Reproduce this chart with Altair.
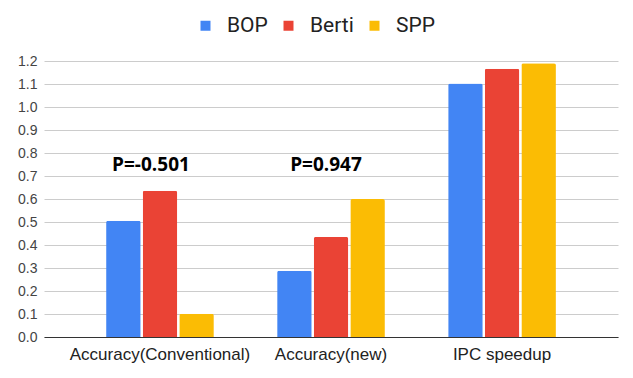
import altair as alt
import pandas as pd

categories = ["Accuracy(Conventional)", "Accuracy(new)", "IPC speedup"]
series = ["BOP", "Berti", "SPP"]
bop = [0.505, 0.288, 1.102]
berti = [0.636, 0.435, 1.166]
spp = [0.101, 0.600, 1.190]
colors = ["#4285F4", "#EA4335", "#FBBC04"]
ytick_values = [0.0, 0.1, 0.2, 0.3, 0.4, 0.5, 0.6, 0.7, 0.8, 0.9, 1.0, 1.1, 1.2]

ann_labels = ["P=-0.501", "P=0.947"]
ann_cats = ["Accuracy(Conventional)", "Accuracy(new)"]
ann_y = [0.75, 0.75]

rows = []
for s, vals in zip(series, [bop, berti, spp]):
    for c, v in zip(categories, vals):
        rows.append({"category": c, "series": s, "value": v})
df = pd.DataFrame(rows)

ann = pd.DataFrame({"category": ann_cats, "label": ann_labels, "y": ann_y})

xscale = alt.Scale(domain=categories, paddingInner=0.37, paddingOuter=0.363)
yscale = alt.Scale(domain=[0, 1.2], nice=False)

xaxis = alt.Axis(title=None, labelAngle=0, labelFont="Liberation Sans",
                 labelFontSize=17, labelColor="#222222", ticks=False,
                 domain=True, domainColor="#333333", domainWidth=1,
                 labelPadding=9, grid=False, labelLimit=0)
yaxis = alt.Axis(title=None, values=ytick_values, format=".1f",
                 labelFont="Liberation Sans", labelFontSize=14,
                 labelColor="#444444", ticks=False, domain=False,
                 gridColor="#cccccc", gridWidth=1, labelPadding=7,
                 labelOverlap=False)

bars = alt.Chart(df).mark_bar(cornerRadiusTopLeft=2, cornerRadiusTopRight=2).encode(
    x=alt.X("category:N", sort=categories, scale=xscale, axis=xaxis),
    xOffset=alt.XOffset("series:N", sort=series, scale=alt.Scale(paddingInner=0.055)),
    y=alt.Y("value:Q", scale=yscale, axis=yaxis),
    color=alt.Color("series:N", sort=series,
                    scale=alt.Scale(domain=series, range=colors),
                    legend=alt.Legend(title=None, orient="none", direction="horizontal",
                                      legendX=151, legendY=-46, symbolType="square",
                                      symbolSize=100, symbolStrokeWidth=0,
                                      labelFont="Roboto", labelFontSize=21,
                                      labelColor="#222222", labelOffset=11,
                                      columnPadding=10)),
)

def ann_layer(i, dx):
    return alt.Chart(ann.iloc[[i]]).mark_text(
        font="Open Sans", fontWeight="bold", fontSize=19, color="#000000",
        align="center", baseline="middle", dx=dx
    ).encode(
        x=alt.X("category:N", sort=categories, scale=xscale, axis=xaxis),
        y=alt.Y("y:Q", scale=yscale, axis=yaxis),
        text="label:N",
    )

chart = alt.layer(bars, ann_layer(0, -9), ann_layer(1, -5)).properties(
    width=574, height=276,
    background="white",
    autosize=alt.AutoSizeParams(type="none"),
    padding={"left": 36, "top": 53, "right": 7, "bottom": 33},
).configure_view(strokeWidth=0)

chart.save("out.html", embed_options={"renderer": "svg", "actions": False})
